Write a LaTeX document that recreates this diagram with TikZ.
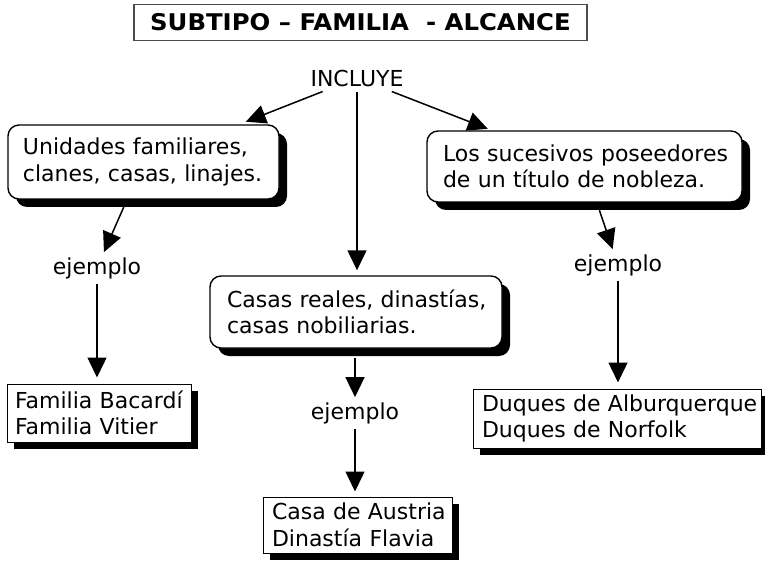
\documentclass[tikz,border=0pt]{standalone}
\usepackage{fontspec}
\setmainfont{DejaVu Sans}
\newfontfamily\titlefont[FakeStretch=1.06]{DejaVu Sans Bold}
\usetikzlibrary{arrows.meta,shadows}
\begin{document}
\begin{tikzpicture}[x=1pt,y=-1pt,
  txt/.style={font=\fontsize{22}{26.5}\selectfont},
  rbox/.style={txt,draw=black,line width=1.4pt,fill=white,rounded corners=11pt,
    align=left,drop shadow={shadow xshift=8pt,shadow yshift=-8pt,fill=black,opacity=1}},
  sbox/.style={txt,draw=black,line width=1pt,fill=white,
    align=left,drop shadow={shadow xshift=7pt,shadow yshift=-7pt,fill=black,opacity=1}},
  lbl/.style={txt,inner sep=5pt},
  arr/.style={line width=1.5pt,-{Triangle[length=20pt,width=19pt]}}]
\useasboundingbox (0,0) rectangle (765,561);
% title
\node[draw=black!70,line width=1.2pt,minimum width=453pt,minimum height=36pt,inner sep=0pt,
  font=\titlefont\fontsize{23}{26}\selectfont] (title) at (360.5,22.5) {SUBTIPO – FAMILIA\ \ - ALCANCE};
% nodes
\node[lbl] (incl) at (357,78) {INCLUYE};
\node[rbox,text width=241pt,inner xsep=15pt,minimum height=74pt] (b1) at (143.5,162)
  {\mbox{Unidades familiares,}\\\mbox{clanes, casas, linajes.}};
\node[rbox,text width=283pt,inner xsep=16pt,minimum height=71pt] (b2) at (584.5,166.5)
  {\mbox{Los sucesivos poseedores}\\\mbox{de un título de nobleza.}};
\node[rbox,text width=258pt,inner xsep=17pt,minimum height=72pt] (b3) at (356,312)
  {\mbox{Casas reales, dinastías,}\\\mbox{casas nobiliarias.}};
\node[lbl] (e1) at (97,268) {ejemplo};
\node[lbl] (e2) at (355,413) {ejemplo};
\node[lbl] (e3) at (618,265) {ejemplo};
\node[sbox,text width=168pt,inner xsep=8pt,minimum height=58pt] (fam) at (99,413)
  {\mbox{Familia Bacardí}\\\mbox{Familia Vitier}};
\node[sbox,text width=270pt,inner xsep=9pt,minimum height=59pt] (duq) at (617,418.5)
  {\mbox{Duques de Alburquerque}\\\mbox{Duques de Norfolk}};
\node[sbox,text width=171pt,inner xsep=9pt,minimum height=56pt] (casa) at (357.5,525)
  {\mbox{Casa de Austria}\\\mbox{Dinastía Flavia}};
% connectors
\draw[arr,shorten >=7pt] (incl) -- (b1);
\draw[arr,shorten >=4pt] (incl) -- (b2);
\draw[arr,shorten >=5pt] (incl.south) -- (incl.south |- b3.north);
\draw[arr,shorten <=8pt] (b1) -- (e1);
\draw[arr] (e1.south) -- ([yshift=6pt]e1.south |- fam.north);
\draw[arr,shorten <=8pt] (b2) -- (e3);
\draw[arr] (e3.south) -- ([yshift=6pt]e3.south |- duq.north);
\draw[arr] ([yshift=-9pt]e2.north |- b3.south) -- (e2.north);
\draw[arr] (e2.south) -- ([yshift=5pt]e2.south |- casa.north);
\end{tikzpicture}
\end{document}
